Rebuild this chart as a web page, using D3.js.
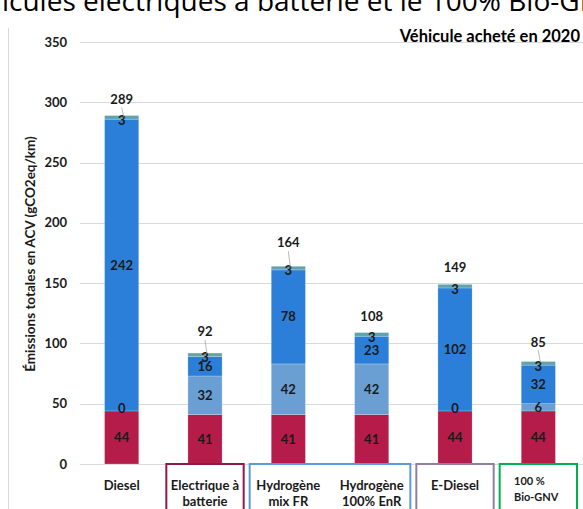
<!DOCTYPE html>
<html lang="fr">
<head>
<meta charset="UTF-8">
<title>Emissions ACV</title>
<script src="https://cdn.jsdelivr.net/npm/d3@7"></script>
<style>
  body { margin: 0; background: #fff; }
  text { font-family: Lato, "Open Sans", sans-serif; }
</style>
</head>
<body>
<script>
const width = 583, height = 509;

const categories = ["Diesel", "Electrique à batterie", "Hydrogène mix FR", "Hydrogène 100% EnR", "E-Diesel", "100 % Bio-GNV"];
const catLines = [["Diesel"], ["Electrique à", "batterie"], ["Hydrogène", "mix FR"], ["Hydrogène", "100% EnR"], ["E-Diesel"], ["100 %", "Bio-GNV"]];
const seriesNames = ["vehicule", "batterie", "energie", "entretien"];
const vehicule = [44, 41, 41, 41, 44, 44];
const batterie = [0, 32, 42, 42, 0, 6];
const energie = [242, 16, 78, 23, 102, 32];
const entretien = [3, 3, 3, 3, 3, 3];
const totals = [289, 92, 164, 108, 149, 85];
const yTicks = [0, 50, 100, 150, 200, 250, 300, 350];

const colors = ["#b51c4a", "#6a9fd4", "#2b7fd8", "#5fa3ad"];

const svg = d3.select("body").append("svg")
    .attr("width", width).attr("height", height);

// page title, cut by the top edge
const title = svg.append("text")
    .attr("y", 11)
    .attr("font-size", 28).attr("fill", "#000")
    .style("font-family", "'Open Sans', sans-serif");
title.append("tspan").attr("class", "pre").text("Véhicules ");
title.append("tspan").text("électriques à batterie et le 100% Bio-GNV");
const preW = title.select(".pre").node().getComputedTextLength();
title.attr("x", 83 - preW);

// chart area border
svg.append("line").attr("x1", 8.5).attr("x2", 8.5).attr("y1", 28).attr("y2", height)
    .attr("stroke", "#d9d9d9");

const x = d3.scaleBand().domain(categories).range([80, 580]).paddingInner(0.59).paddingOuter(0.295);
const y = d3.scaleLinear().domain([0, 350]).range([464, 42]);

// grid + ticks
svg.append("g").selectAll("line").data(yTicks).join("line")
    .attr("x1", 80).attr("x2", width)
    .attr("y1", d => Math.round(y(d)) + 0.5).attr("y2", d => Math.round(y(d)) + 0.5)
    .attr("stroke", "#d9d9d9").attr("stroke-width", 1.2);
svg.append("g").selectAll("text").data(yTicks).join("text")
    .attr("x", 67).attr("y", d => y(d)).attr("dy", "0.35em")
    .attr("text-anchor", "end").attr("font-size", 13).attr("font-weight", "bold")
    .attr("fill", "#1a1a1a").text(d => d);

svg.append("text")
    .attr("transform", "translate(35,254) rotate(-90)")
    .attr("text-anchor", "middle").attr("font-size", 13.5).attr("font-weight", "bold")
    .attr("fill", "#1a1a1a")
    .text("Émissions totales en ACV (gCO2eq/km)");

svg.append("text")
    .attr("x", 580).attr("y", 42)
    .attr("text-anchor", "end").attr("font-size", 16.5).attr("font-weight", "bold")
    .attr("fill", "#000").text("Véhicule acheté en 2020");

// stacked bars
const rows = categories.map((c, i) => ({
  cat: c, vehicule: vehicule[i], batterie: batterie[i], energie: energie[i], entretien: entretien[i]
}));
const stacked = d3.stack().keys(seriesNames)(rows);

const layers = svg.append("g").selectAll("g").data(stacked).join("g")
    .attr("fill", (d, i) => colors[i]);
layers.selectAll("rect").data(d => d).join("rect")
    .attr("x", d => x(d.data.cat))
    .attr("width", x.bandwidth())
    .attr("y", d => y(d[1]))
    .attr("height", d => y(d[0]) - y(d[1]))
    .attr("stroke", "#ffffff").attr("stroke-opacity", 0.35).attr("stroke-width", 0.6);

// segment labels
const segLabels = [];
stacked.forEach((layer, li) => {
  layer.forEach(d => {
    const v = d[1] - d[0];
    let yy = (y(d[0]) + y(d[1])) / 2;
    if (v === 0) yy = y(d[0]) - 2;
    if (li === 3) yy = y(d[0]) + 1;
    segLabels.push({ cat: d.data.cat, v, yy });
  });
});
svg.append("g").selectAll("text").data(segLabels).join("text")
    .attr("x", d => x(d.cat) + x.bandwidth() / 2)
    .attr("y", d => d.yy).attr("dy", "0.35em")
    .attr("text-anchor", "middle").attr("font-size", 13).attr("font-weight", "bold")
    .attr("fill", "#1a1a1a").text(d => d.v);

// totals with leader lines
const totalOffset = [12, 17, 19, 12, 12, 15];
const tot = svg.append("g");
categories.forEach((c, i) => {
  const cx = x(c) + x.bandwidth() / 2;
  const top = y(d3.sum([vehicule[i], batterie[i], energie[i], entretien[i]]));
  const ly = top - totalOffset[i];
  if (totalOffset[i] > 13 || i === 0) {
    tot.append("line").attr("x1", cx).attr("x2", cx + 2)
        .attr("y1", ly + 4).attr("y2", top + 1)
        .attr("stroke", "#a6a6a6").attr("stroke-width", 0.8);
  }
  tot.append("text").attr("x", cx).attr("y", ly)
      .attr("text-anchor", "middle").attr("font-size", 13).attr("font-weight", "bold")
      .attr("fill", "#1a1a1a").text(totals[i]);
});

// category boxes
const boxes = [
  { from: 1, to: 1, color: "#8c1c47" },
  { from: 2, to: 3, color: "#5b9bd5" },
  { from: 4, to: 4, color: "#8e7fa3" },
  { from: 5, to: 5, color: "#00b050" }
];
const step = x.step();
svg.append("g").selectAll("rect").data(boxes).join("rect")
    .attr("x", d => x(categories[d.from]) + x.bandwidth() / 2 - step / 2 + 3)
    .attr("y", 464)
    .attr("width", d => (d.to - d.from + 1) * step - 6)
    .attr("height", 60)
    .attr("fill", "none").attr("stroke", d => d.color).attr("stroke-width", 2);

// category labels
const lab = svg.append("g");
catLines.forEach((lines, i) => {
  const cx = x(categories[i]) + x.bandwidth() / 2;
  const last = i === 5;
  lines.forEach((t, j) => {
    lab.append("text")
        .attr("x", last ? 514 : cx).attr("y", last ? 485 + j * 16 : 490 + j * 16)
        .attr("text-anchor", last ? "start" : "middle")
        .attr("font-size", last ? 11 : 13).attr("font-weight", "bold")
        .attr("fill", "#1a1a1a").text(t);
  });
});
</script>
</body>
</html>
